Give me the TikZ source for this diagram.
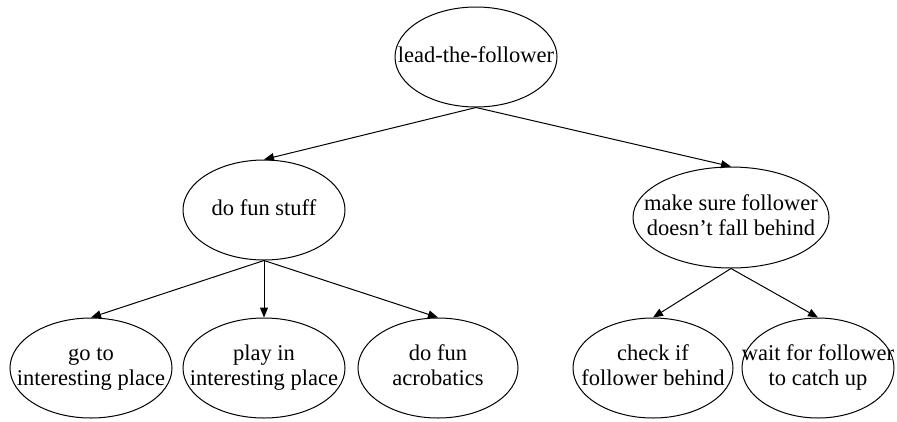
\documentclass[tikz,border=0pt]{standalone}
\usepackage{fontspec}
\setmainfont{Liberation Serif}
\usetikzlibrary{shapes.geometric,arrows.meta}
\tikzset{
  goal/.style={draw=black, line width=1pt, ellipse, inner sep=0pt,
    minimum width=162pt, minimum height=100pt,
    font=\fontsize{22.5}{25}\selectfont},
  wide/.style={minimum width=196pt, minimum height=101pt},
  link/.style={draw=black, line width=1pt,
    -{Triangle[length=10pt,width=8pt]}}
}
\newcommand{\lbl}[1]{\makebox[0pt]{\begin{tabular}{@{}c@{}}#1\end{tabular}}}
\begin{document}
\begin{tikzpicture}[x=1pt,y=-1pt]
\useasboundingbox (0,0) rectangle (897,421);
\node[goal] (root) at (476,57) {\lbl{lead-the-follower}};
\node[goal] (fun) at (264,210) {\lbl{do fun stuff}};
\node[goal,wide] (sure) at (731,217.5) {\lbl{make sure follower\\doesn’t fall behind}};
\node[goal] (goto) at (91,368) {\lbl{go to\\interesting place}};
\node[goal] (play) at (264,368) {\lbl{play in\\interesting place}};
\node[goal,minimum width=160pt] (acro) at (438,368) {\lbl{do fun\\acrobatics}};
\node[goal,minimum width=160pt] (check) at (653,368) {\lbl{check if\\follower behind}};
\node[goal,minimum width=152pt] (wait) at (818,368) {\lbl{wait for follower\\to catch up}};
\draw[link] (root.south) -- (fun.north);
\draw[link] (root.south) -- (sure.north);
\draw[link] (fun.south) -- (goto.north);
\draw[link] (fun.south) -- (play.north);
\draw[link] (fun.south) -- (acro.north);
\draw[link] (sure.south) -- (check.north);
\draw[link] (sure.south) -- (wait.north);
\end{tikzpicture}
\end{document}
